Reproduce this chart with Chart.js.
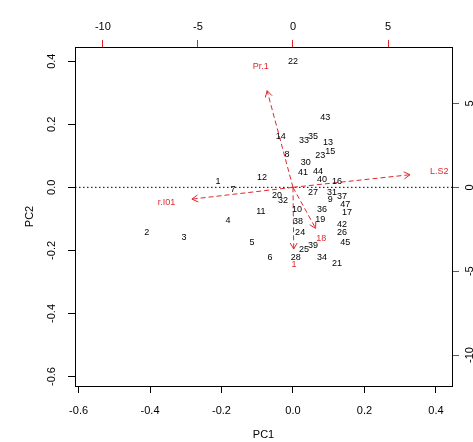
<!DOCTYPE html>
<html>
<head>
<meta charset="utf-8">
<script src="https://cdn.jsdelivr.net/npm/chart.js@4/dist/chart.umd.min.js"></script>
<style>
  html, body { margin: 0; padding: 0; background: #fff; }
  #wrap { width: 473px; height: 442px; position: relative; }
</style>
</head>
<body>
<div id="wrap"><canvas id="biplot"></canvas></div>
<script>
// ---- Data ------------------------------------------------
// Observation scores (PC1 / PC2, bottom + left axes)
const OBS_LABELS = ['1','2','3','4','5','6','7','8','9','10','11','12','13','14','15','16','17','19','20',
  '21','22','23','24','25','26','27','28','30','31','32','33','34','35','36','37','38','39','40','41','42','43','44','45','47'];
const OBS_PC1 = [-0.21,-0.409,-0.305,-0.182,-0.115,-0.064,-0.168,-0.017,0.104,0.011,-0.09,-0.087,0.098,-0.034,0.104,0.123,0.151,0.076,-0.045,
  0.123,0.0,0.076,0.02,0.031,0.137,0.056,0.008,0.036,0.109,-0.028,0.031,0.081,0.056,0.081,0.137,0.014,0.056,0.081,0.028,0.137,0.09,0.07,0.146,0.146];
const OBS_PC2 = [0.019,-0.143,-0.159,-0.105,-0.175,-0.222,-0.006,0.105,-0.038,-0.07,-0.076,0.032,0.143,0.162,0.114,0.019,-0.079,-0.102,-0.025,
  -0.241,0.4,0.102,-0.143,-0.197,-0.143,-0.016,-0.222,0.079,-0.016,-0.041,0.149,-0.222,0.162,-0.07,-0.029,-0.108,-0.184,0.025,0.048,-0.117,0.222,0.051,-0.175,-0.054];

// Variable loadings (top + right axes)
const VAR_LABELS = ['Pr.1', 'L.S2', 'r.I01', '1', '18'];
const VAR_X = [-1.7, 7.7, -6.65, 0.05, 1.49];
const VAR_Y = [7.2, 0.94, -0.88, -4.6, -3.06];

// Tick labels
const X_TICKS  = [-0.6, -0.4, -0.2, 0.0, 0.2, 0.4];
const Y_TICKS  = [-0.6, -0.4, -0.2, 0.0, 0.2, 0.4];
const X2_TICKS = [-10, -5, 0, 5];
const Y2_TICKS = [-10, -5, 0, 5];

// ---- Styles ----------------------------------------------
const FONT = "'Liberation Sans', Arial, sans-serif";
const RED = '#e0262c';
const RATIO = 18.8; // loading scale / score scale
const XLIM = [-0.61, 0.445];
const YLIM = [-0.63, 0.445];
const ARROW_SHRINK = 0.8; // R biplot draws arrows to 0.8 of the label position

Chart.defaults.font.family = FONT;
Chart.defaults.color = '#000';

function fixTicks(list) {
  return s => { s.ticks = list.map(v => ({ value: v })); };
}

const datasets = [{
  label: 'scores',
  data: OBS_PC1.map((x, i) => ({ x: x, y: OBS_PC2[i] })),
  xAxisID: 'x', yAxisID: 'y',
  pointRadius: 0, pointHoverRadius: 0
}];
VAR_LABELS.forEach((lab, i) => {
  datasets.push({
    label: lab,
    data: [{ x: 0, y: 0 }, { x: VAR_X[i] * ARROW_SHRINK, y: VAR_Y[i] * ARROW_SHRINK }],
    xAxisID: 'x2', yAxisID: 'y2',
    showLine: true,
    borderColor: RED,
    borderWidth: 1,
    borderDash: [5, 3],
    pointRadius: 0, pointHoverRadius: 0
  });
});

// Labels, arrow heads, zero line, rotated y tick labels
const biplotDecor = {
  id: 'biplotDecor',
  beforeDatasetsDraw(chart) {
    const { ctx, chartArea, scales } = chart;
    const y0 = scales.y.getPixelForValue(0);
    ctx.save();
    ctx.strokeStyle = '#000';
    ctx.lineWidth = 1;
    ctx.setLineDash([1.5, 2.5]);
    ctx.beginPath();
    ctx.moveTo(chartArea.left, y0);
    ctx.lineTo(chartArea.right, y0);
    ctx.stroke();
    ctx.restore();
  },
  afterDatasetsDraw(chart) {
    const { ctx, scales } = chart;
    ctx.save();
    ctx.textAlign = 'center';
    ctx.textBaseline = 'middle';

    // observation labels
    const meta = chart.getDatasetMeta(0);
    ctx.fillStyle = '#000';
    ctx.font = '9px ' + FONT;
    meta.data.forEach((pt, i) => ctx.fillText(OBS_LABELS[i], pt.x, pt.y));

    // arrow heads + variable labels
    ctx.fillStyle = RED;
    ctx.strokeStyle = RED;
    ctx.lineWidth = 1;
    VAR_LABELS.forEach((lab, i) => {
      const m = chart.getDatasetMeta(i + 1);
      const a = m.data[0], b = m.data[1];
      const ang = Math.atan2(b.y - a.y, b.x - a.x);
      const len = 7;
      ctx.beginPath();
      ctx.moveTo(b.x - len * Math.cos(ang - Math.PI / 6), b.y - len * Math.sin(ang - Math.PI / 6));
      ctx.lineTo(b.x, b.y);
      ctx.lineTo(b.x - len * Math.cos(ang + Math.PI / 6), b.y - len * Math.sin(ang + Math.PI / 6));
      ctx.stroke();
      ctx.font = '9px ' + FONT;
      ctx.fillText(lab, scales.x2.getPixelForValue(VAR_X[i]), scales.y2.getPixelForValue(VAR_Y[i]));
    });

    // rotated tick labels for left / right axes (R style)
    ctx.fillStyle = '#000';
    ctx.font = '11px ' + FONT;
    Y_TICKS.forEach(v => {
      ctx.save();
      ctx.translate(52, scales.y.getPixelForValue(v));
      ctx.rotate(-Math.PI / 2);
      ctx.fillText(v.toFixed(1), 0, 0);
      ctx.restore();
    });
    Y2_TICKS.forEach(v => {
      ctx.save();
      ctx.translate(470, scales.y2.getPixelForValue(v));
      ctx.rotate(-Math.PI / 2);
      ctx.fillText(String(v), 0, 0);
      ctx.restore();
    });
    ctx.restore();
  }
};

new Chart(document.getElementById('biplot'), {
  type: 'scatter',
  data: { datasets: datasets },
  plugins: [biplotDecor],
  options: {
    responsive: true,
    maintainAspectRatio: false,
    animation: false,
    layout: { padding: 0 },
    plugins: { legend: { display: false }, tooltip: { enabled: false } },
    events: [],
    scales: {
      x: {
        position: 'bottom', min: XLIM[0], max: XLIM[1],
        afterBuildTicks: fixTicks(X_TICKS),
        afterFit: s => { s.height = 56; },
        grid: { drawOnChartArea: false, tickLength: 7, color: '#000' },
        border: { color: '#000', width: 1 },
        ticks: { font: { size: 11 }, padding: 11, maxRotation: 0, callback: v => v.toFixed(1) },
        title: { display: true, text: 'PC1', font: { size: 11 }, padding: { top: 0, bottom: 0 } }
      },
      y: {
        position: 'left', min: YLIM[0], max: YLIM[1],
        afterBuildTicks: fixTicks(Y_TICKS),
        afterFit: s => { s.width = 75; },
        grid: { drawOnChartArea: false, tickLength: 7, color: '#000' },
        border: { color: '#000', width: 1 },
        ticks: { display: false },
        title: { display: true, text: 'PC2', font: { size: 11 }, padding: { top: 23, bottom: 0 } }
      },
      x2: {
        position: 'top', min: XLIM[0] * RATIO, max: XLIM[1] * RATIO,
        afterBuildTicks: fixTicks(X2_TICKS),
        afterFit: s => { s.height = 47; },
        grid: { drawOnChartArea: false, tickLength: 7, color: RED },
        border: { color: '#000', width: 1 },
        ticks: { font: { size: 11 }, padding: 6, maxRotation: 0, callback: v => String(v) }
      },
      y2: {
        position: 'right', min: YLIM[0] * RATIO, max: YLIM[1] * RATIO,
        afterBuildTicks: fixTicks(Y2_TICKS),
        afterFit: s => { s.width = 21; },
        grid: { drawOnChartArea: false, tickLength: 7, color: RED },
        border: { color: '#000', width: 1 },
        ticks: { display: false }
      }
    }
  }
});
</script>
</body>
</html>
